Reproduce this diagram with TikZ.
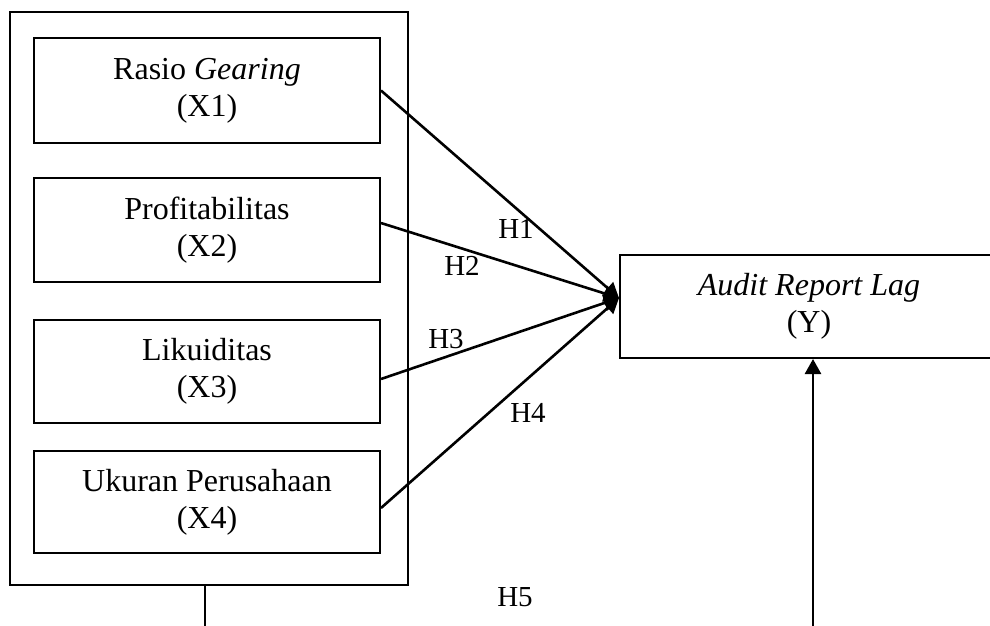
\documentclass[tikz,border=0pt]{standalone}
\usepackage{fontspec}
\setmainfont{Liberation Serif}
\usetikzlibrary{arrows.meta}

\def\Bx{207}
\def\Yx{809}

\begin{document}
\begin{tikzpicture}[x=1pt, y=-1pt, line width=2pt,
    var/.style={draw, minimum width=346pt, minimum height=104pt, align=center, font=\fontsize{32}{37}\selectfont},
    hyp/.style={inner sep=0pt, font=\fontsize{29}{34}\selectfont},
    link/.style={line width=2.6pt, -{Triangle[length=15pt, width=16pt]}}]
    \useasboundingbox (0,0) rectangle (990,626);

    \node[draw, minimum width=398pt, minimum height=573pt] (group) at (209,298.5) {};
    \node[var, minimum height=105pt] (X1) at (\Bx,90.5) {Rasio \textit{Gearing}\\(X1)};
    \node[var] (X2) at (\Bx,230) {Profitabilitas\\(X2)};
    \node[var, minimum height=103pt] (X3) at (\Bx,371.5) {Likuiditas\\(X3)};
    \node[var, minimum height=102pt] (X4) at (\Bx,502) {Ukuran Perusahaan\\(X4)};
    \node[var, minimum width=378pt, minimum height=103pt] (Y) at (\Yx,306.5) {\textit{Audit Report Lag}\\(Y)};

    \coordinate (hub) at (619,298);
    \coordinate (gbot) at (205,626);
    \coordinate (ybot) at (813,626);

    \draw[link] (X1.east) -- (hub);
    \draw[link] ([yshift=7pt]X2.east) -- (hub);
    \draw[link] ([yshift=-7.5pt]X3.east) -- (hub);
    \draw[link] ([yshift=-6pt]X4.east) -- (hub);
    \draw (gbot) -- (gbot |- group.south);
    \draw[link] (ybot) -- (ybot |- Y.south);

    \node[hyp] (H1) at (516,229) {H1};
    \node[hyp] (H2) at (462,266) {H2};
    \node[hyp] (H3) at (446,339) {H3};
    \node[hyp] (H4) at (528,413) {H4};
    \node[hyp] (H5) at (515,597) {H5};
\end{tikzpicture}
\end{document}
